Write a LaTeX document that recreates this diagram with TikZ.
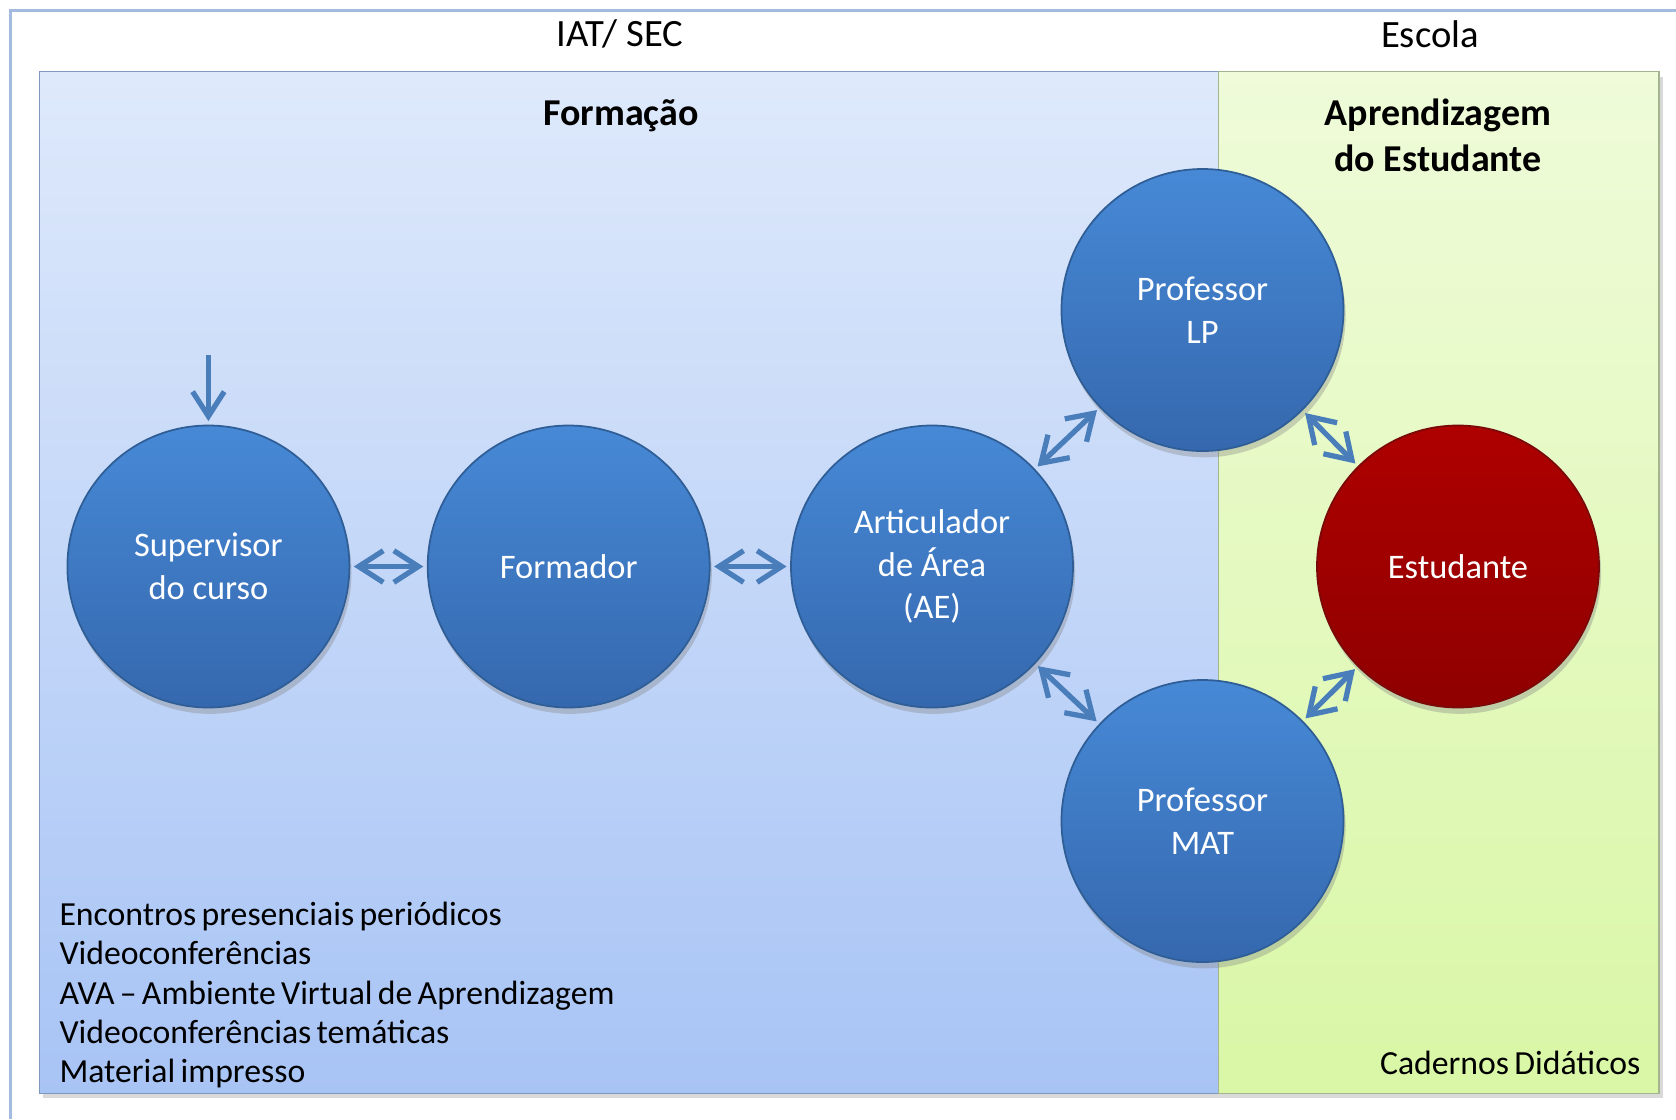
\documentclass[tikz,border=0pt]{standalone}
\usepackage{fontspec}
\setmainfont{Carlito}
\usetikzlibrary{arrows.meta,shadows}

\definecolor{framecol}{HTML}{A3BBDF}
\definecolor{bluetop}{HTML}{DEE9FB}
\definecolor{bluebot}{HTML}{A8C4F5}
\definecolor{bluerim}{HTML}{7E98BE}
\definecolor{greentop}{HTML}{EFFBD9}
\definecolor{greenbot}{HTML}{D9F7A6}
\definecolor{greenrim}{HTML}{A3B48E}
\definecolor{balltop}{HTML}{4789D6}
\definecolor{ballbot}{HTML}{3568AE}
\definecolor{ballrim}{HTML}{2F5E96}
\definecolor{redtop}{HTML}{AE0000}
\definecolor{redbot}{HTML}{8F0000}
\definecolor{redrim}{HTML}{7A0A0A}
\definecolor{linkcol}{HTML}{4A7EBB}

\protected\def\narrowsp{\spaceskip=1.5pt\relax}

\begin{document}
\begin{tikzpicture}[
        ball/.style={circle, minimum size={2*\rad cm}, inner sep=0pt, align=center,
            text=white, font=\fontsize{9.8}{12.2}\selectfont,
            draw=ballrim, line width=0.5pt, top color=balltop, bottom color=ballbot,
            drop shadow={shadow xshift=0.6pt, shadow yshift=-1.8pt, opacity=0.35}},
        redball/.style={ball, draw=redrim, top color=redtop, bottom color=redbot},
        panel/.style={line width=0.4pt,
            drop shadow={shadow xshift=1pt, shadow yshift=-1.4pt, opacity=0.3}},
        link/.style={linkcol, line width=1.5pt, {Straight Barb[length=7pt,width=9pt]}-{Straight Barb[length=7pt,width=9pt]},
            shorten <=1pt, shorten >=1pt},
        feedarrow/.style={linkcol, line width=1.5pt, -{Straight Barb[length=7pt,width=9pt]}, shorten >=1pt},
        head/.style={font=\fontsize{11}{13}\selectfont, text=black},
        title/.style={font=\bfseries\fontsize{10.8}{13}\selectfont, text=black, align=center},
        notes/.style={font=\fontsize{9.6}{11.2}\selectfont\narrowsp, text=black, inner sep=0pt}
    ]
    \def\rad{1.41}
    \useasboundingbox (0,0) rectangle (16.76,-11.19);

    % outer frame
    \draw[framecol, line width=0.7pt] (0.107,-11.19) -- (0.107,-0.107) -- (16.76,-0.107);

    % panels
    \draw[panel, draw=bluerim, top color=bluetop, bottom color=bluebot] (0.395,-0.716) rectangle (12.186,-10.935);
    \draw[panel, draw=greenrim, top color=greentop, bottom color=greenbot] (12.186,-0.716) rectangle (16.59,-10.935);

    \node[head] (iat) at (6.20,-0.34) {IAT/ SEC};
    \node[head] (escola) at (14.30,-0.34) {Escola};
    \node[title] (formacao) at (6.21,-1.16) {Formação};
    \node[title] (aprend) at (14.38,-1.35) {Aprendizagem\\do Estudante};

    % circles
    \node[ball] (sup) at (2.084,-5.665) {Supervisor\\do curso};
    \node[ball] (form) at (5.687,-5.665) {Formador};
    \node[ball] (art) at (9.32,-5.665) {Articulador\\de Área\\(AE)};
    \node[ball] (lp) at (12.025,-3.10) {Professor\\LP};
    \node[ball] (mat) at (12.025,-8.21) {Professor\\MAT};
    \node[redball] (est) at (14.58,-5.665) {Estudante};

    % connectors
    \coordinate (feed) at (2.084,-3.55);
    \draw[feedarrow] (feed) -- (sup);
    \foreach \a/\b in {sup/form, form/art, art/lp, art/mat, lp/est, mat/est}
        \draw[link] (\a) -- (\b);

    \node[notes, anchor=west, align=left] (meios) at (0.588,-9.95)
        {Encontros presenciais periódicos\\Videoconferências\\AVA – Ambiente Virtual de Aprendizagem\\Videoconferências temáticas\\Material impresso};
    \node[notes, anchor=east] (cadernos) at (16.41,-10.625) {Cadernos Didáticos};
\end{tikzpicture}
\end{document}
